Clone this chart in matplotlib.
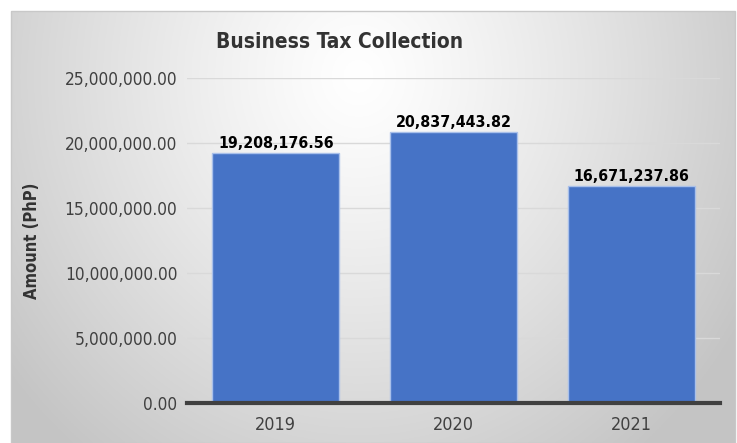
import numpy as np
import matplotlib
matplotlib.use("Agg")
import matplotlib.pyplot as plt
from matplotlib import font_manager as fm
from matplotlib.patches import Rectangle

years = ["2019", "2020", "2021"]
amounts = [19208176.56, 20837443.82, 16671237.86]
yticks = [0, 5000000, 10000000, 15000000, 20000000, 25000000]
title = "Business Tax Collection"
ylabel = "Amount (PhP)"


def find_narrow(bold):
    cands = []
    for f in fm.fontManager.ttflist:
        nm = f.name + " " + f.fname
        is_narrow = ("Narrow" in nm) or ("Condensed" in nm) or (f.stretch in ("condensed", "semi-condensed"))
        if not is_narrow or "Mono" in nm or "Serif" in nm:
            continue
        w = f.weight if isinstance(f.weight, int) else {"bold": 700, "normal": 400}.get(f.weight, 400)
        if bold and w < 600:
            continue
        if not bold and w >= 600:
            continue
        if f.style != "normal":
            continue
        pri = 0 if "Liberation" in nm else (1 if "Arimo" in nm else 2)
        cands.append((pri, f.fname))
    cands.sort()
    return cands[0][1] if cands else None


reg = find_narrow(False)
bld = find_narrow(True)
if reg and bld:
    fp_reg = fm.FontProperties(fname=reg)
    fp_bld = fm.FontProperties(fname=bld)
    sizes = dict(tick=12.4, xtick=12.9, data=11.4, title=15.0, ylab=11.9)
else:
    fp_reg = fm.FontProperties(family="Liberation Sans")
    fp_bld = fm.FontProperties(family="Liberation Sans", weight="bold")
    sizes = dict(tick=12.6, xtick=12.6, data=12.6, title=15.5, ylab=12.6)
plt.rcParams["font.family"] = ["Liberation Sans", "DejaVu Sans"]

W, H = 737, 443
fig = plt.figure(figsize=(W / 100, H / 100), dpi=100, facecolor="white")

# background gradient panel
x0, y0, x1 = 11, 11, 735
bg = fig.add_axes([x0 / W, 0, (x1 - x0) / W, (H - y0) / H])
gx = np.linspace(0, 1, 400)
gy = np.linspace(0, 1, 300)
X, Y = np.meshgrid(gx, gy)
r = np.sqrt(((X - 0.48) / 0.55) ** 2 + ((Y - 0.15) / 1.0) ** 2)
v = np.clip(1.0 - 0.2 * r ** 1.2, 0.77, 1.0)
img = np.dstack([v, v, v])
bg.imshow(img, extent=[0, 1, 0, 1], origin="upper", aspect="auto")
bg.set_xlim(0, 1)
bg.set_ylim(0, 1)
bg.axis("off")
fig.patches.append(Rectangle((x0 / W, 0), (x1 - x0) / W, (H - y0) / H,
                             transform=fig.transFigure, fill=False,
                             edgecolor="#c8c8c8", linewidth=1.0, zorder=5))

# main axes
L, R, T, B = 187, 720, 78, 403
ax = fig.add_axes([L / W, 1 - B / H, (R - L) / W, (B - T) / H])
ax.patch.set_alpha(0)
xpos = np.arange(len(years))
bars = ax.bar(xpos, amounts, width=0.715, color="#4673C6",
              edgecolor="#A9C0EA", linewidth=1.0, zorder=3)
ax.set_xlim(-0.5, len(years) - 0.5)
ax.set_ylim(0, 25000000)
ax.set_yticks(yticks)
ax.set_yticklabels([f"{t:,.2f}" for t in yticks])
ax.set_xticks(xpos)
ax.set_xticklabels(years)
ax.tick_params(axis="both", length=0, labelcolor="#404040")
ax.tick_params(axis="y", pad=7)
ax.tick_params(axis="x", pad=9)
for lab in ax.get_yticklabels():
    lab.set_fontproperties(fp_reg)
    lab.set_fontsize(sizes["tick"])
for lab in ax.get_xticklabels():
    lab.set_fontproperties(fp_reg)
    lab.set_fontsize(sizes["xtick"])
ax.grid(axis="y", color="#d9d9d9", linewidth=1.0, zorder=0)
for s in ["left", "right", "top"]:
    ax.spines[s].set_visible(False)
ax.spines["bottom"].set_color("#404040")
ax.spines["bottom"].set_linewidth(3)
ax.spines["bottom"].set_zorder(4)

for xi, a in zip(xpos, amounts):
    ax.annotate(f"{a:,.2f}", (xi, a), xytext=(0, 1.5), textcoords="offset points",
                ha="center", va="bottom", fontproperties=fp_bld,
                fontsize=sizes["data"], color="black", zorder=6)

fig.text(340 / W, 1 - 42 / H, title, ha="center", va="center",
         fontproperties=fp_bld, fontsize=sizes["title"], color="#333333")
fig.text(32 / W, 1 - 241 / H, ylabel, ha="center", va="center", rotation=90,
         fontproperties=fp_bld, fontsize=sizes["ylab"], color="#333333")

fig.savefig("out.png", dpi=100, facecolor="white")
